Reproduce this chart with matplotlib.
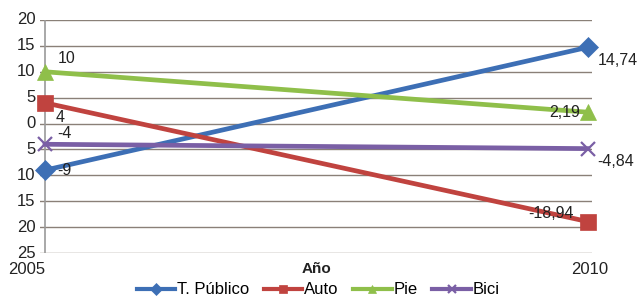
import numpy as np
import matplotlib
matplotlib.use("Agg")
import matplotlib.pyplot as plt

# data
years = [2005, 2010]
series_names = ['T. Público', 'Auto', 'Pie', 'Bici']
t_publico = [-9, 14.74]
auto = [4, -18.94]
pie = [10, 2.19]
bici = [-4, -4.84]
y_ticks = [20, 15, 10, 5, 0, -5, -10, -15, -20, -25]

colors = ['#3d6fb5', '#c0433f', '#8fbf4a', '#7a5fa5']
markers = ['D', 's', '^', 'x']
msizes = [10, 12, 11, 10]
values = [t_publico, auto, pie, bici]

# label placement (offset in points, ha, va)
label_fmt = {
    0: [((9, 0), 'left', 'center'), ((7, -4), 'left', 'top')],
    1: [((8, -5), 'left', 'top'), ((-10, 6), 'right', 'center')],
    2: [((9, 4), 'left', 'bottom'), ((-6, 0), 'right', 'center')],
    3: [((9, 2), 'left', 'bottom'), ((7, -4), 'left', 'top')],
}

plt.rcParams['font.family'] = ['Liberation Sans', 'DejaVu Sans']

fig = plt.figure(figsize=(6.43, 2.99), dpi=100)
fig.patch.set_facecolor('white')
W, H = 643, 299
x0, x1 = 40, 592
y_top, y_bot = 20, 253
ax = fig.add_axes([x0 / W, 1 - y_bot / H, (x1 - x0) / W, (y_bot - y_top) / H])

ppy = (588 - 45) / 5.0
ax.set_xlim(2005 - 5 / ppy, 2010 + 4 / ppy)
ax.set_ylim(-25, 20)

for v in y_ticks:
    ax.axhline(v, color='#8a8078', lw=1.0, zorder=1)
ax.axvline(2005, color='#9a9a9a', lw=1.2, zorder=1)

handles = []
for i, (name, vals) in enumerate(zip(series_names, values)):
    h, = ax.plot(years, vals, color=colors[i], lw=3.4, marker=markers[i],
                 markersize=msizes[i],
                 markeredgewidth=1.6 if markers[i] == 'x' else 0.5,
                 label=name, zorder=3, clip_on=False)
    handles.append(h)
    for j, (yr, val) in enumerate(zip(years, vals)):
        txt = f'{val:g}'.replace('.', ',')
        (dx, dy), ha, va = label_fmt[i][j]
        ax.annotate(txt, (yr, val), xytext=(dx, dy), textcoords='offset points',
                    ha=ha, va=va, fontsize=11.5, color='#222222', zorder=4)

ax.set_xticks([])
ax.set_yticks([])
for s in ax.spines.values():
    s.set_visible(False)

# y tick labels as they appear (no minus signs)
for v in y_ticks:
    ax.text(-0.008, v, str(abs(v)), transform=ax.get_yaxis_transform(),
            ha='right', va='center', fontsize=12, color='#222222')

fig.text(27 / W, 1 - 270 / H, '2005', ha='center', va='center', fontsize=12, color='#222222')
fig.text(590 / W, 1 - 270 / H, '2010', ha='center', va='center', fontsize=12, color='#222222')
fig.text(316 / W, 1 - 269 / H, 'Año', ha='center', va='center', fontsize=11,
         fontweight='bold', color='#222222')

leg = fig.legend(handles=handles, loc='center', bbox_to_anchor=(318 / W, 1 - 290 / H),
                 ncol=4, frameon=False, fontsize=12, handlelength=2.3,
                 handletextpad=0.1, columnspacing=0.9, borderaxespad=0)
for lh in leg.get_lines():
    lh.set_markersize(6)
    lh.set_linewidth(3)

fig.savefig('out.png', dpi=100, facecolor='white')
